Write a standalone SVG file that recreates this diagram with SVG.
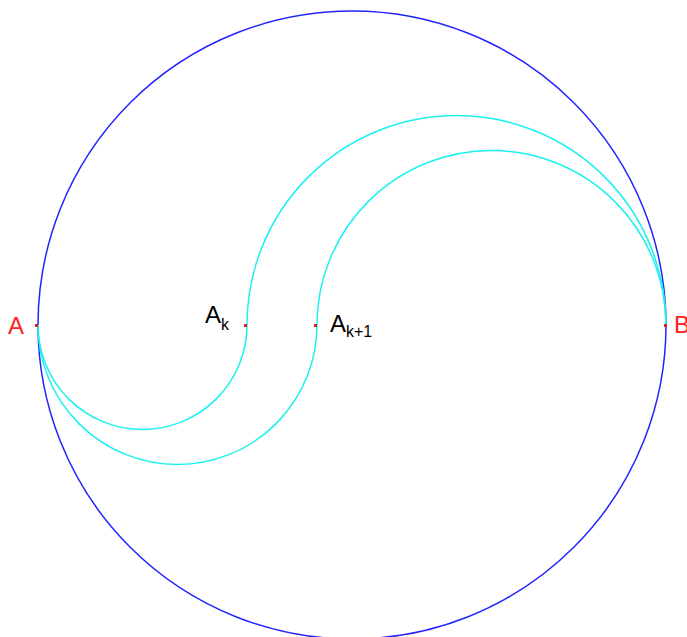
<svg xmlns="http://www.w3.org/2000/svg" width="687" height="637" viewBox="0 0 687 637">
<style>
.circ{fill:none;stroke:#2323ff;stroke-width:1.5}
.arc{fill:none;stroke:#1ef0f0;stroke-width:1.5}
.pt{fill:#e02020}
.lbl{font-family:"Liberation Sans",Arial,sans-serif;font-size:24px}
.sub{font-size:16px}
.red{fill:#ff2020}
.blk{fill:#000}
</style>
<rect width="687" height="637" fill="#fff"/>
<g id="connectors">
<circle class="circ" cx="352" cy="325" r="314"/>
<path class="arc" d="M 38 325 A 104.5 104.5 0 0 0 247 325 A 209.5 209.5 0 0 1 666 325"/>
<path class="arc" d="M 38 325 A 139.5 139.5 0 0 0 317 325 A 174.5 174.5 0 0 1 666 325"/>
</g>
<g id="A">
<rect class="pt" x="35" y="324" width="3" height="3"/>
<text class="lbl red" x="8" y="334">A</text>
</g>
<g id="Ak">
<rect class="pt" x="244" y="324" width="3" height="3"/>
<text class="lbl blk" x="205" y="323">A<tspan class="sub" dy="7">k</tspan></text>
</g>
<g id="Ak1">
<rect class="pt" x="314" y="324" width="3" height="3"/>
<text class="lbl blk" x="330" y="332">A<tspan class="sub" dy="5">k+1</tspan></text>
</g>
<g id="B">
<rect class="pt" x="664" y="324" width="3" height="3"/>
<text class="lbl red" x="674" y="333">B</text>
</g>
</svg>
